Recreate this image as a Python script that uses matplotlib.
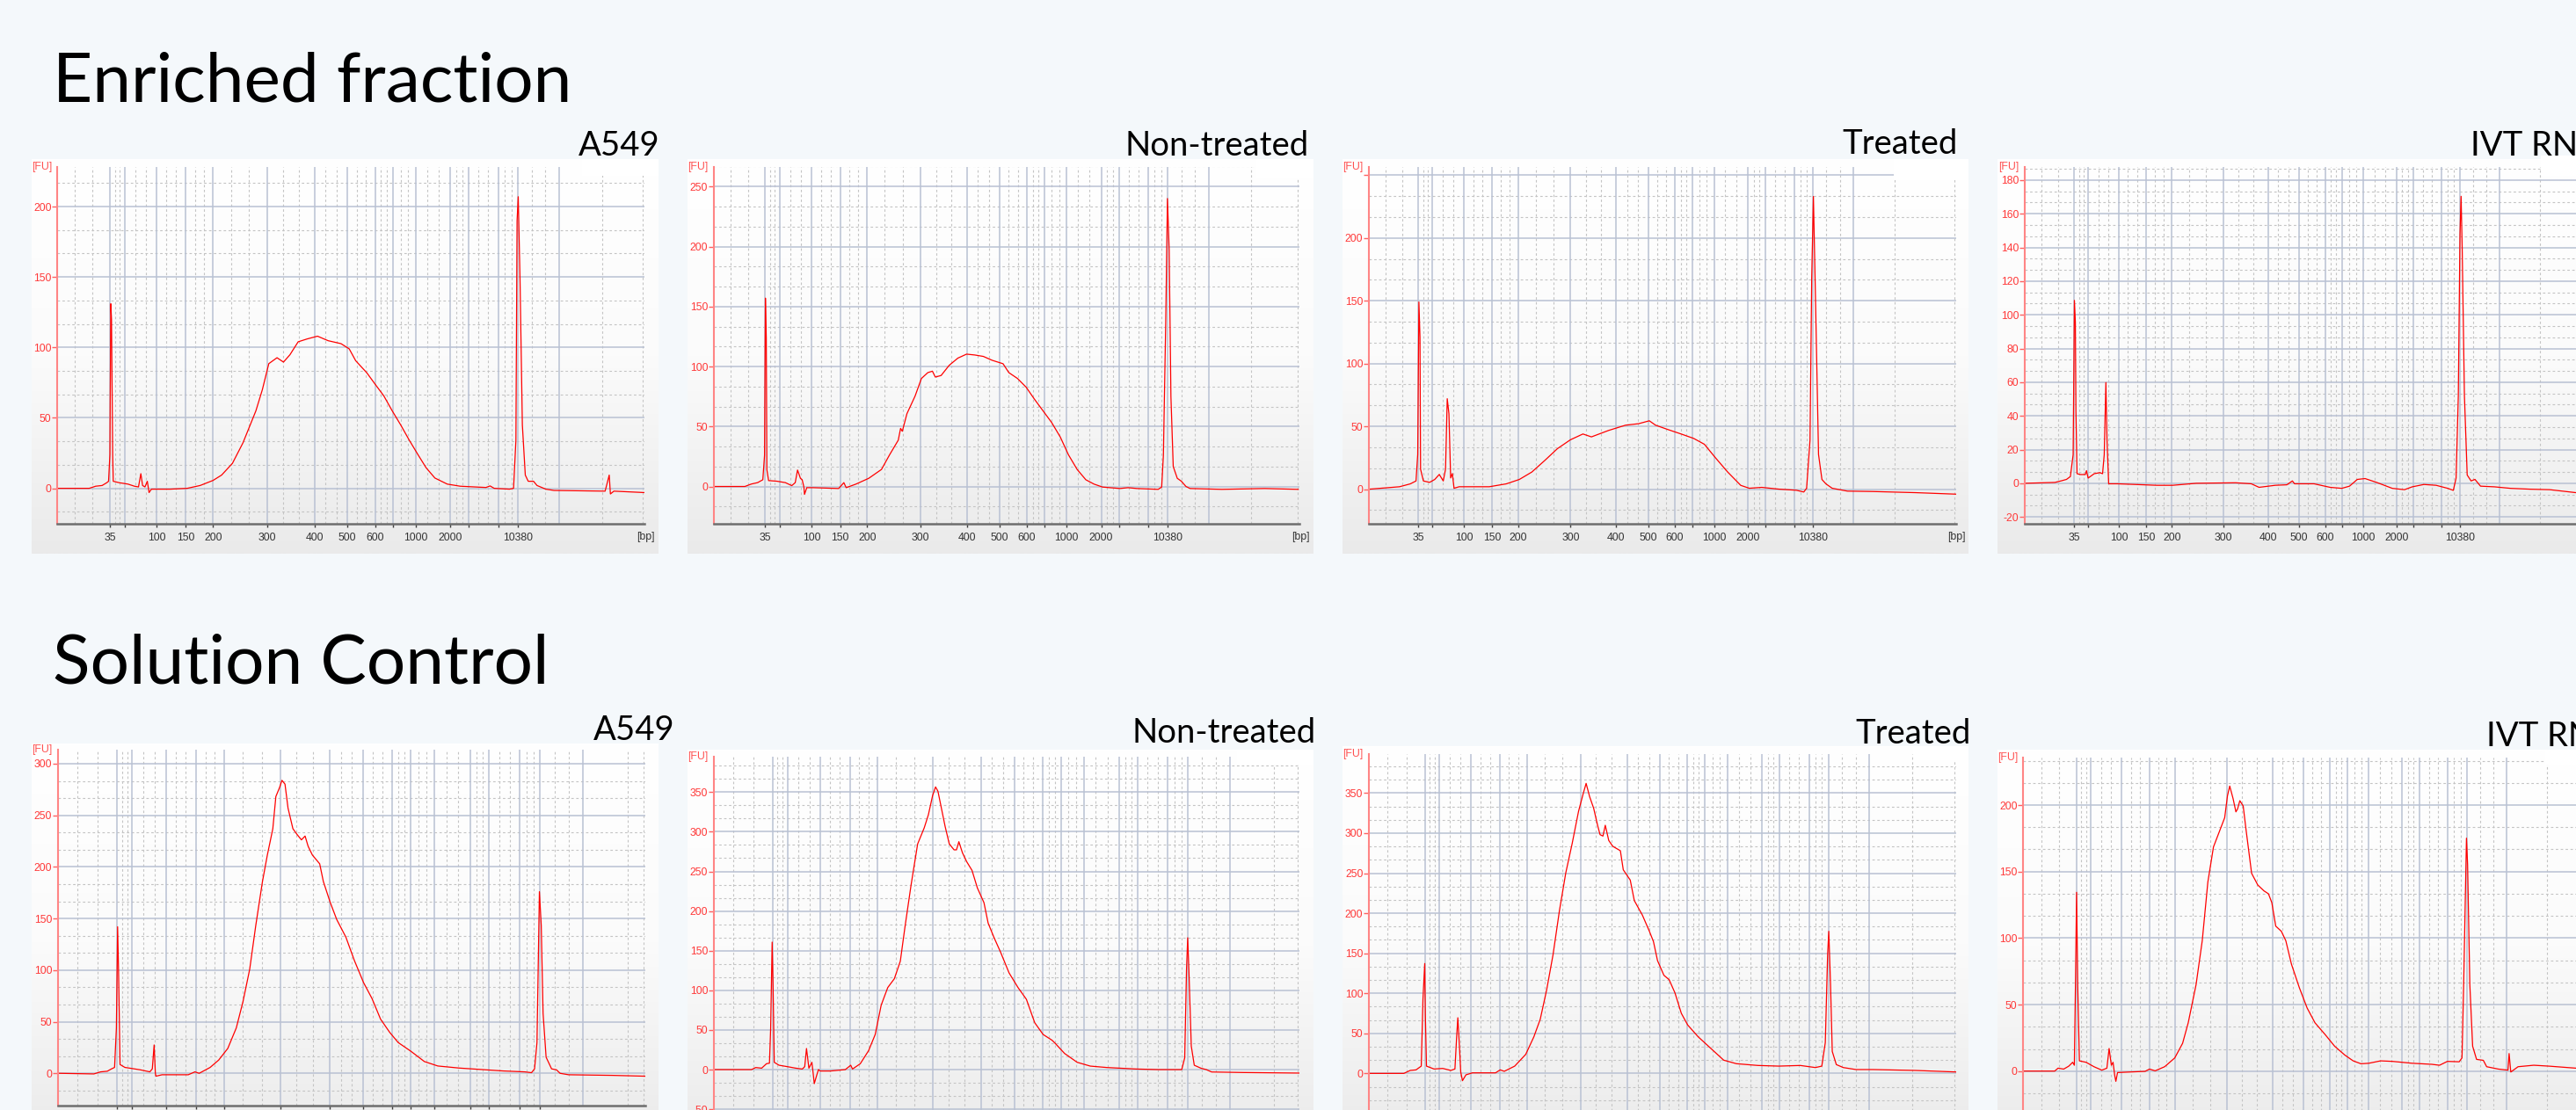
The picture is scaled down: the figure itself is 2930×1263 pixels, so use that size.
import numpy as np
import matplotlib
matplotlib.use("Agg")
import matplotlib.pyplot as plt
from matplotlib.colors import LinearSegmentedColormap
from matplotlib.patches import Rectangle

# ---------------------------------------------------------------- data
row_titles = ["Enriched fraction", "Solution Control"]
sample_names = ["A549", "Non-treated", "Treated", "IVT RNA"]

# ladder peaks (bp) and their migration position (same units as trace x values)
ladder_bp = [35, 50, 100, 150, 200, 300, 400, 500, 600, 700, 1000, 2000, 3000, 7000, 10380]
ladder_time = [8.93, 11.40, 16.92, 21.86, 26.51, 35.73, 43.79, 49.38, 54.10, 57.15,
               61.00, 66.96, 70.01, 75.09, 78.43]
labeled_bp = [35, 100, 150, 200, 300, 400, 500, 600, 1000, 2000, 10380]

# --- Enriched fraction
enr_a549_time = [0.15, 5.4, 6.5, 7.6, 8.4, 8.7, 8.93, 9.08, 9.2, 9.4, 9.5, 10.5, 12.0, 13.1, 13.8,
                 14.2, 14.5, 14.9, 15.3, 15.6, 16.0, 19.2, 22.1, 24.3, 26.5, 27.96, 29.8, 31.6,
                 33.8, 34.9, 36.0, 37.4, 38.5, 39.6, 41.0, 42.5, 44.3, 46.1, 48.3, 49.7, 50.8,
                 52.7, 54.1, 55.6, 57.0, 58.5, 59.9, 61.4, 62.8, 64.3, 66.4, 68.6, 73.0, 73.7,
                 74.4, 77.0, 77.7, 78.1, 78.3, 78.5, 78.8, 79.2, 79.7, 80.2, 81.1, 81.7, 83.2,
                 84.6, 93.3, 94.0, 94.2, 94.8, 99.9]
enr_a549_fu = [0, 0, 1.5, 2, 4, 5, 24, 131, 120, 24, 5, 4, 3, 1.5, 1,
               10.4, 2, 1, 5, -3, -0.6, -0.6, 0, 2, 5.6, 9.4, 17.7, 32.3,
               55, 70, 88.5, 92.7, 89.6, 94.8, 104, 106, 108, 104.8, 102.7, 99, 90.6,
               82, 74, 65.6, 55.2, 44.8, 34.4, 24, 14.6, 7.3, 3, 1.5, 0.6, 1.7,
               0, -0.6, 0, 34, 190, 207, 149, 45, 9.4, 5, 5, 2, -0.6,
               -1.5, -2, 9.4, -4, -2, -3]

enr_nt_time = [0.27, 5.4, 6.5, 7.6, 8.5, 8.8, 8.95, 9.1, 9.2, 9.5, 10.9, 12.4, 13.5, 14.1, 14.5,
               15.0, 15.3, 15.6, 15.7, 16.1, 17.2, 21.6, 22.5, 22.9, 24.6, 26.8, 29.0, 30.4,
               31.9, 32.3, 32.6, 33.4, 34.8, 35.9, 37.0, 37.8, 38.3, 39.3, 40.7, 42.2, 43.7,
               45.1, 46.6, 48.1, 50.0, 51.0, 52.5, 54.0, 55.4, 56.9, 58.4, 59.9, 61.3, 62.8,
               64.3, 65.7, 67.2, 70.2, 71.6, 73.1, 76.8, 77.4, 77.7, 78.1, 78.4, 78.7, 79.0,
               79.4, 80.1, 80.8, 81.6, 82.3, 87.8, 95.2, 101.0]
enr_nt_fu = [0, 0, 2, 3.2, 5.6, 26, 157, 124, 14, 4.9, 4.4, 3.2, 0.7, 3.2, 13.7,
             6.8, 5.6, -0.5, -6.6, -1, -1, -1.7, 3.2, -1, 2, 6.8, 14.2, 26.4,
             38.6, 48.4, 46, 60.7, 75.3, 90, 94.9, 96.1, 91.2, 92.5, 101, 107, 110.3,
             109.6, 108.4, 105.2, 102.3, 94.9, 90, 82.7, 72.9, 63.1, 53.3, 41.1, 26.4, 14.2,
             5.6, 2, -0.5, -1.7, -1, -1.7, -2.4, -0.5, 26, 136, 240, 197, 75,
             16.6, 6.8, 4.4, 0, -1.7, -2.4, -1.7, -2.4]

enr_tr_time = [0.38, 5.6, 7.5, 8.5, 8.8, 9.01, 9.2, 9.3, 9.8, 10.9, 11.8, 12.6, 13.3, 13.7, 14.0,
               14.3, 14.6, 14.9, 15.2, 16.1, 21.4, 24.4, 26.7, 28.9, 31.2, 33.4, 35.7, 37.9,
               39.4, 42.4, 45.4, 47.7, 49.6, 50.7, 52.9, 55.2, 57.4, 59.3, 61.2, 63.4, 65.7,
               67.2, 69.4, 72.4, 75.5, 76.8, 77.3, 77.9, 78.2, 78.5, 78.9, 79.4, 80.0, 80.7,
               81.8, 84.5, 89.0, 96.5, 103.6]
enr_tr_fu = [0, 1.9, 4.2, 6.5, 27.6, 149, 121, 15.9, 6.5, 5.4, 7.7, 11.7, 6.5, 15.9, 72,
             60, 8.9, 12.4, 0.7, 1.9, 1.9, 4.2, 7.7, 13.6, 22.9, 32.2, 39.3, 43.9,
             41.6, 46.7, 50.9, 52.1, 54.4, 50.9, 47.4, 43.9, 40.4, 35.7, 25.2, 13.6, 3.0,
             0.7, 1.4, 0, -0.9, -2.3, 0.7, 39, 168, 233, 144, 27.6, 7.7, 4.2,
             0.7, -1.6, -1.9, -2.8, -4.0]

enr_ivt_time = [0.09, 5.4, 6.5, 7.5, 8.2, 8.7, 8.93, 9.1, 9.2, 9.4, 10.0, 10.9, 11.1, 11.4, 12.5,
                13.5, 14.0, 14.3, 14.6, 14.8, 15.1, 16.7, 23.8, 26.6, 30.9, 38.0, 40.8, 42.2,
                45.1, 47.2, 48.2, 48.6, 52.1, 55.0, 57.1, 58.5, 59.9, 61.3, 63.4, 66.2, 68.4,
                69.8, 71.9, 74.1, 76.2, 77.2, 77.7, 78.1, 78.4, 78.6, 78.8, 79.2, 79.7, 80.4,
                81.1, 82.1, 84.6, 87.5, 91.0, 94.6, 99.4]
enr_ivt_fu = [0, 0.5, 1.4, 2.3, 4, 17, 108.6, 95.5, 43, 5.7, 5.2, 5.2, 7.5, 3.1, 5.7,
              6.3, 5.7, 17, 59.8, 25.8, -0.3, -0.3, -1.2, -1.2, 0, 0.3, -0.3, -2.4,
              -1.2, -0.9, 1.4, -0.3, -0.3, -2.4, -3.0, -1.7, 2.3, 2.8, 0.5, -3.0, -3.8,
              -2.1, -0.7, -1.2, -3.0, -4.2, 3.1, 52, 147.8, 170.4, 139, 52, 4.9, 1.4,
              2.3, -1.7, -2.1, -3.0, -3.5, -3.8, -5.6]

# --- Solution Control
sol_a549_time = [-0.6, 5.1, 6.2, 7.3, 8.0, 8.5, 8.8, 9.0, 9.15, 9.4, 10.2, 11.2, 12.7, 14.3, 14.7,
                 15.0, 15.2, 15.3, 16.3, 20.6, 21.7, 22.4, 24.2, 25.6, 27.1, 28.5, 29.6, 30.7,
                 31.7, 32.8, 33.6, 34.5, 35.0, 35.6, 36.0, 36.5, 37.0, 37.8, 38.5, 39.2, 39.8,
                 40.3, 41.0, 42.2, 42.8, 43.9, 45.0, 46.5, 47.9, 49.4, 50.8, 52.2, 53.7, 55.1,
                 57.2, 59.4, 61.6, 65.1, 68.7, 72.3, 75.9, 77.0, 77.5, 77.9, 78.3, 78.6, 78.9,
                 79.4, 80.3, 81.1, 81.7, 83.1, 90.3, 95.7]
sol_a549_fu = [0, -0.6, 1.4, 2, 4.3, 5.7, 44, 142, 100.8, 8.5, 5.7, 4.8, 3.4, 1.4, 4.3,
               27.5, 0, -2.8, -1.4, -1.4, 1.4, 0, 5.7, 12.8, 24.1, 44, 69.5, 100.8,
               143.3, 185.9, 211.5, 237, 268.2, 276.8, 283.9, 280.2, 256.9, 237, 231.3, 226.2, 229.9,
               220, 211.5, 203, 185.9, 166.1, 149, 132, 109.3, 88, 72.4, 52.5, 39.7, 29.8,
               21.3, 11.4, 7.1, 5.1, 3.7, 2.3, 1.4, 0.6, 4.3, 29.8, 176, 143.3, 58.2,
               15.6, 4.3, 3.4, 0, -1.4, -2, -2.8]

sol_nt_time = [-0.7, 5.4, 6.1, 7.1, 7.9, 8.4, 8.6, 8.85, 9.0, 9.2, 10.0, 11.4, 12.8, 13.9, 14.3,
               14.6, 15.0, 15.5, 15.7, 15.9, 16.3, 16.6, 16.9, 18.6, 21.1, 22.0, 22.3, 23.6,
               25.0, 26.1, 27.1, 28.2, 29.3, 30.3, 31.1, 32.1, 33.2, 34.3, 35.0, 35.7, 36.2,
               36.6, 37.1, 37.8, 38.5, 39.3, 39.7, 40.1, 40.7, 41.4, 42.3, 43.2, 44.3, 45.0,
               46.0, 47.1, 48.5, 50.0, 51.4, 52.8, 54.2, 55.7, 56.2, 57.8, 59.9, 62.1, 64.9,
               69.9, 73.5, 77.4, 77.9, 78.2, 78.4, 78.6, 79.0, 79.5, 80.6, 81.5, 82.4, 87.8, 97.1]
sol_nt_fu = [0, 0, 2.6, 1.8, 7.4, 8.1, 51.7, 160.8, 107, 9.2, 5.5, 3.7, 1.8, 0.7, 3.7,
             26.6, 1.8, 9.2, -3.7, -17.7, -7.4, 0, -1.8, -1.8, 0, 5.5, 0.7, 7.4,
             24, 44.3, 81.3, 103.5, 114.6, 136.7, 181, 232.8, 284.6, 304.9, 321.5, 345.5, 356.6,
             351.1, 332.6, 306.7, 284.6, 277.2, 277.2, 287.5, 273.5, 262.4, 251.3, 229.1, 210.6, 184.8,
             166.3, 147.8, 122, 103.5, 88.7, 59.1, 44.3, 37, 33.3, 20.3, 9.2, 4.4, 2.6,
             0.7, 0, 0, 14.8, 125.6, 166.3, 125.6, 29.6, 5.5, 1.8, 0, -3, -3.7, -4.4]

sol_tr_time = [-0.5, 5.3, 6.4, 7.4, 8.3, 8.6, 8.9, 9.0, 9.2, 10.5, 12.0, 13.4, 14.1, 14.4, 14.6,
               14.9, 15.1, 15.4, 16.0, 17.1, 21.1, 21.9, 22.6, 24.4, 26.3, 27.7, 28.8, 29.9,
               31.0, 32.1, 33.2, 34.3, 35.4, 36.2, 36.7, 37.3, 38.0, 38.7, 39.1, 39.6, 40.0,
               40.6, 41.3, 42.6, 43.1, 44.3, 45.0, 46.4, 47.6, 48.3, 49.0, 50.1, 51.0, 52.0,
               53.1, 54.2, 56.0, 58.2, 60.4, 62.6, 66.3, 69.9, 73.6, 76.2, 77.3, 77.9, 78.3,
               78.5, 78.8, 79.1, 79.8, 81.0, 83.2, 86.1, 93.4, 100.4]
sol_tr_fu = [0, 0, 3.7, 4.4, 9.1, 93.3, 137.2, 75, 9.1, 5.5, 6.2, 3.7, 5.5, 45.7, 69.5,
             31.1, 1.8, -9.1, -1.8, 0.7, 0.7, 4.4, 2.6, 9.1, 23.8, 45.7, 67.7, 104.2,
             148.1, 203, 250.5, 287.1, 327.4, 349.3, 362.1, 345.6, 331, 309.1, 298.1, 296.3, 309.8,
             290.8, 283.5, 278, 254.2, 241.4, 215.8, 197.5, 177.4, 164.6, 140.8, 122.5, 117, 100.6,
             75, 60.4, 45.7, 31.1, 16.5, 12.1, 9.9, 9.1, 9.9, 7.3, 9.1, 38.4, 148.1,
             177.4, 111.6, 27.4, 11, 7.3, 4.8, 4.8, 3.7, 1.8]

sol_ivt_time = [-0.4, 5.0, 5.6, 6.6, 7.5, 8.2, 8.5, 8.7, 8.9, 9.1, 9.4, 10.6, 12.0, 13.4, 14.3,
                14.7, 15.1, 15.4, 15.7, 15.9, 16.2, 18.3, 21.1, 21.9, 22.9, 24.6, 26.4, 27.8,
                28.8, 30.2, 31.3, 32.3, 33.3, 34.4, 35.3, 35.8, 36.2, 36.8, 37.3, 37.6, 38.0,
                38.6, 39.1, 40.1, 41.2, 42.3, 43.1, 43.7, 44.4, 45.4, 46.2, 47.2, 48.6, 50.0,
                51.4, 53.2, 54.9, 56.7, 58.2, 59.6, 61.0, 63.1, 65.2, 68.7, 72.2, 73.6, 75.0,
                77.1, 77.6, 77.9, 78.4, 78.6, 79.0, 79.5, 80.2, 81.4, 82.0, 84.1, 85.8, 86.0,
                86.3, 87.6, 90.4, 93.2, 97.9]
sol_ivt_fu = [0, 0, 2.2, 1.5, 3.7, 6.6, 4.4, 65, 134.4, 65, 7.7, 6.6, 3.3, 0.7, 2.2,
              17, 4.4, 6.6, -3.3, -7.7, -1.1, -0.7, -0.2, 1.5, 0.2, 3.3, 9.9, 20.9,
              36.3, 65, 98, 142.1, 168.5, 180.6, 190.5, 207, 214.3, 204.8, 194.9, 197.1, 203.3,
              199.3, 181.7, 148.7, 139.9, 135.5, 133.3, 126.7, 109, 105.1, 98, 80.4, 62.8, 47.4,
              36.3, 27.5, 18.7, 12.1, 7.7, 5.5, 5.9, 7.7, 7.3, 5.9, 5.1, 4.4, 7.3,
              7, 9.9, 65, 175.1, 155.3, 65, 18.7, 8.8, 8.1, 3.3, 1.5, 0.7, 13.2,
              -0.7, 3.3, 4.4, 3.7, 2.2]

yticks_enr_a549 = [0, 50, 100, 150, 200]
yticks_enr_nt = [0, 50, 100, 150, 200, 250]
yticks_enr_tr = [0, 50, 100, 150, 200, 250]
yticks_enr_ivt = [-20, 0, 20, 40, 60, 80, 100, 120, 140, 160, 180]
yticks_sol_a549 = [0, 50, 100, 150, 200, 250, 300]
yticks_sol_nt = [-50, 0, 50, 100, 150, 200, 250, 300, 350]
yticks_sol_tr = [0, 50, 100, 150, 200, 250, 300, 350]
yticks_sol_ivt = [0, 50, 100, 150, 200]

# ---------------------------------------------------------------- layout / style
W, H, DPI = 2930, 1263, 100
BG = "#F4F8FB"
TRACE = "#FF0000"
MAJ = "#B9C1D3"
MIN = "#C4C4C4"
TITLE_FONT = ["Lato", "DejaVu Sans"]
TICK_FONT = ["Liberation Sans", "DejaVu Sans"]
TICK_SIZE = 8.8

fig = plt.figure(figsize=(W / DPI, H / DPI), dpi=DPI, facecolor=BG)


def fbox(x0, y0, x1, y1):
    return [x0 / W, 1 - y1 / H, (x1 - x0) / W, (y1 - y0) / H]


gcmap = LinearSegmentedColormap.from_list("g", ["#FFFFFF", "#FBFBFB", "#EAEAEA"])

panels = [
    # panel box, axes box, xlim, ylim, trace, yticks, unlabeled y ticks, show x labels
    ((36, 181, 749, 630), (65.4, 190, 733, 595.7), (0, 100), (-25, 228.1),
     (enr_a549_time, enr_a549_fu), yticks_enr_a549, [], True),
    ((782, 181, 1494, 630), (812, 190, 1478, 595.7), (0.05, 101.2), (-30.9, 266.3),
     (enr_nt_time, enr_nt_fu), yticks_enr_nt, [], True),
    ((1527, 181, 2239, 630), (1557.2, 190, 2224.7, 595.7), (0.23, 103.6), (-27.4, 256.5),
     (enr_tr_time, enr_tr_fu), yticks_enr_tr, [250], True),
    ((2272, 181, 2990, 630), (2303, 190, 2971, 595.7), (-0.02, 105.8), (-23.9, 187.8),
     (enr_ivt_time, enr_ivt_fu), yticks_enr_ivt, [], True),
    ((36, 846, 749, 1300), (66, 853, 734, 1258), (-0.79, 95.7), (-31.3, 313.6),
     (sol_a549_time, sol_a549_fu), yticks_sol_a549, [], False),
    ((782, 853, 1494, 1300), (812, 861, 1478, 1300), (-0.90, 97.1), (-92, 394.7),
     (sol_nt_time, sol_nt_fu), yticks_sol_nt, [], False),
    ((1527, 849, 2239, 1300), (1557.2, 858, 2224.7, 1300), (-0.69, 100.4), (-86.3, 398.7),
     (sol_tr_time, sol_tr_fu), yticks_sol_tr, [], False),
    ((2272, 853, 2990, 1300), (2301.4, 862, 2969.4, 1300), (-0.59, 104.1), (-53.7, 235.7),
     (sol_ivt_time, sol_ivt_fu), yticks_sol_ivt, [], False),
]

extra_major = [85.5]
extra_minor = [92.8]

for (pb, ab, xl, yl, (tx, ty), yt, unl, showx) in panels:
    # panel background with vertical gradient
    bg = fig.add_axes(fbox(*pb))
    bg.imshow(np.linspace(0, 1, 256)[:, None], aspect="auto", cmap=gcmap,
              extent=[0, 1, 0, 1], origin="upper", interpolation="bilinear")
    bg.set_axis_off()
    bg.set_zorder(0)

    ax = fig.add_axes(fbox(*ab))
    ax.set_zorder(1)
    ax.set_facecolor("none")
    ax.set_xlim(*xl)
    ax.set_ylim(*yl)

    # vertical grid: ladder lines solid, thirds dashed
    majors = list(ladder_time) + extra_major
    breaks = [xl[0]] + majors
    minors = []
    for a, b in zip(breaks[:-1], breaks[1:]):
        minors += [a + (b - a) / 3, a + 2 * (b - a) / 3]
    minors += extra_minor + [xl[1] - 0.25]
    for t in minors:
        ax.axvline(t, color=MIN, lw=0.8, ls=(0, (2.5, 2.5)), zorder=1)
    for t in majors:
        ax.axvline(t, color=MAJ, lw=1.1, zorder=1.2)

    # horizontal grid
    step = yt[-1] - yt[-2]
    ys = np.arange(yt[0] - 2 * step, yt[-1] + 2 * step, step / 3)
    for y in ys:
        k = (y - yt[0]) / step
        if abs(k - round(k)) < 1e-6:
            ax.axhline(y, color=MAJ, lw=1.1, zorder=1.2)
        else:
            ax.axhline(y, color=MIN, lw=0.8, ls=(0, (2.5, 2.5)), zorder=1)

    ax.plot(tx, ty, color=TRACE, lw=0.9, zorder=3, solid_joinstyle="round")

    for s in ["top", "right"]:
        ax.spines[s].set_visible(False)
    ax.spines["left"].set_color("#FF8585")
    ax.spines["left"].set_linewidth(1.5)
    ax.spines["bottom"].set_color("#6E6E6E")
    ax.spines["bottom"].set_linewidth(1.8)
    ax.spines["left"].set_zorder(4)
    ax.spines["bottom"].set_zorder(4)

    ax.set_xticks(ladder_time)
    if showx:
        ax.set_xticklabels([str(b) if b in labeled_bp else "" for b in ladder_bp],
                           family=TICK_FONT, fontsize=TICK_SIZE, color="#333333")
    else:
        ax.tick_params(axis="x", labelbottom=False)
    ax.tick_params(axis="x", length=3, width=1, color="#404040", pad=4.2)
    ax.set_yticks(yt)
    ax.set_yticklabels(["" if v in unl else str(v) for v in yt],
                       family=TICK_FONT, fontsize=TICK_SIZE, color="#FF3838")
    ax.tick_params(axis="y", length=4.3, width=1, color="#FF6060", pad=0.6)

    x0, y0, x1, y1 = ab
    fig.text((x0 - 18) / W, 1 - y0 / H, "[FU]", ha="center", va="center",
             family=TICK_FONT, fontsize=TICK_SIZE, color="#FF5050")
    if showx and x1 + 14 < W:
        fig.text((x1 + 1) / W, 1 - (y1 + 15) / H, "[bp]", ha="center", va="center",
                 family=TICK_FONT, fontsize=TICK_SIZE, color="#333333")

# white text-box remnants overlapping panel tops
for (x0, y0, x1, y1) in [(662, 181, 749, 200), (1429, 181, 1494, 203), (2154, 181, 2239, 205),
                         (2890, 177, 2935, 200), (1407, 853, 1494, 870),
                         (2176, 849, 2239, 865), (2895, 853, 2935, 870)]:
    fig.add_artist(Rectangle((x0 / W, 1 - y1 / H), (x1 - x0) / W, (y1 - y0) / H,
                             transform=fig.transFigure, facecolor="white",
                             edgecolor="none", zorder=10))

# titles
fig.text(60 / W, 1 - 116 / H, row_titles[0], ha="left", va="baseline",
         family=TITLE_FONT, fontsize=56.5, color="black")
fig.text(60 / W, 1 - 777 / H, row_titles[1], ha="left", va="baseline",
         family=TITLE_FONT, fontsize=56.5, color="black")

sub_pos = [
    [("right", 751, 177), ("right", 1489, 177), ("right", 2227, 175), ("left", 2810, 177)],
    [("right", 768, 842), ("right", 1497, 845), ("right", 2242, 846), ("left", 2828, 849)],
]
for row in range(2):
    for name, (ha, x, y) in zip(sample_names, sub_pos[row]):
        fig.text(x / W, 1 - y / H, name, ha=ha, va="baseline",
                 family=TITLE_FONT, fontsize=27.5, color="black", zorder=11)

fig.savefig("out.png", dpi=DPI, facecolor=BG)
